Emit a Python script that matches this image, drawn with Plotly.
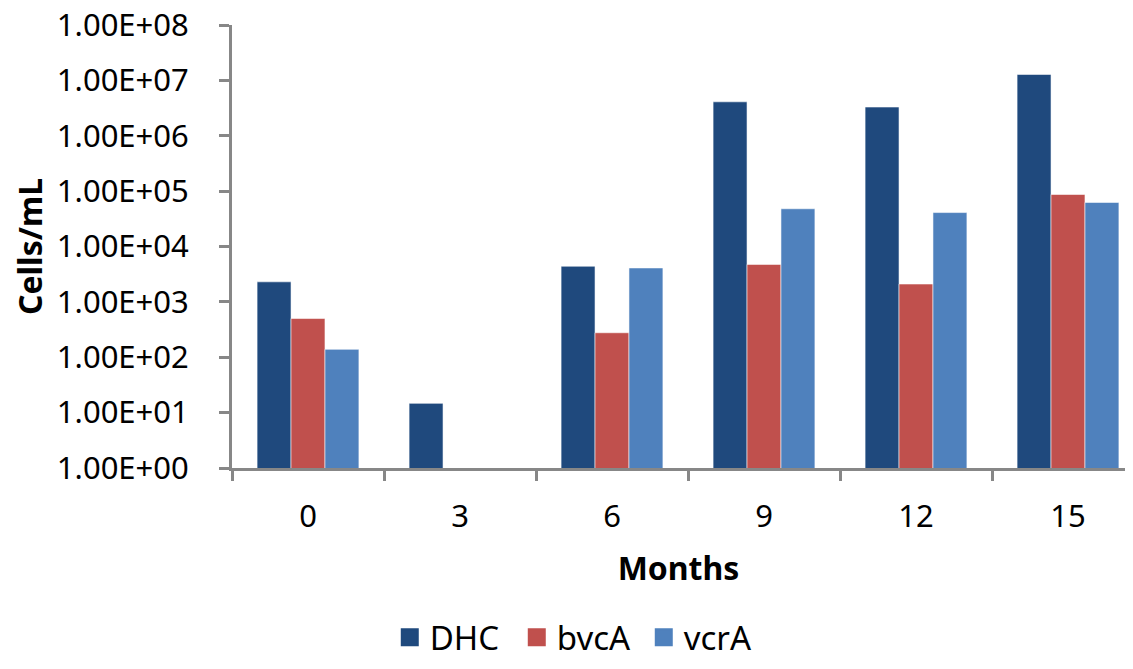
import plotly.graph_objects as go

months = ["0", "3", "6", "9", "12", "15"]
dhc = [2300, 14.7, 4400, 4100000, 3300000, 12800000]
bvca = [500, None, 277, 4750, 2100, 87000]
vcra = [139, None, 4100, 48000, 41000, 62500]
series_names = ["DHC", "bvcA", "vcrA"]
colors = ["#1F497D", "#C0504D", "#4F81BD"]
ytick_vals = [1, 10, 100, 1000, 10000, 100000, 1000000, 10000000, 100000000]
ytick_text = ["1.00E+00", "1.00E+01", "1.00E+02", "1.00E+03", "1.00E+04",
              "1.00E+05", "1.00E+06", "1.00E+07", "1.00E+08"]

FONT = "Noto Sans"
fig = go.Figure()
for name, vals, col in zip(series_names, [dhc, bvca, vcra], colors):
    fig.add_trace(go.Bar(x=months, y=vals, name=name, showlegend=False,
                         marker=dict(color=col, line=dict(color="rgba(255,255,255,0.55)", width=1))))
for name, col in zip(series_names, colors):
    fig.add_trace(go.Scatter(x=[None], y=[None], mode="markers", name=name,
                             marker=dict(symbol="square", size=16, color=col,
                                         line=dict(color=col, width=2))))

axis_col = "#878787"
fig.update_layout(
    width=1117, height=653,
    margin=dict(l=224, r=0, t=17, b=193, autoexpand=False),
    paper_bgcolor="white", plot_bgcolor="white",
    font=dict(family=FONT, size=31, color="black"),
    barmode="group", bargap=0.33, bargroupgap=0,
    showlegend=True,
    legend=dict(orientation="h", x=0.39, xanchor="center", y=-0.382, yanchor="middle",
                font=dict(size=33), itemwidth=30, entrywidthmode="pixels", entrywidth=82),
)
fig.update_xaxes(type="category", range=[-0.5, 5.375], showline=True, linecolor=axis_col,
                 linewidth=3, ticks="outside", tickson="boundaries", ticklen=10,
                 tickwidth=3, tickcolor=axis_col, showgrid=False, zeroline=False,
                 ticklabelstandoff=19, automargin=False, tickfont=dict(size=31),
                 title=dict(text="<b>Months</b>", font=dict(size=32), standoff=23))
fig.update_yaxes(type="log", range=[0, 8], tickvals=ytick_vals, ticktext=ytick_text,
                 showline=True, linecolor=axis_col, linewidth=3, ticks="outside",
                 ticklen=10, tickwidth=3, tickcolor=axis_col, showgrid=False,
                 zeroline=False, ticklabelstandoff=24, automargin=False,
                 ticklabeloverflow="allow", tickfont=dict(size=31),
                 title=dict(text="<b>Cells/mL</b>", font=dict(size=32), standoff=28))

fig.write_html("out.html")
